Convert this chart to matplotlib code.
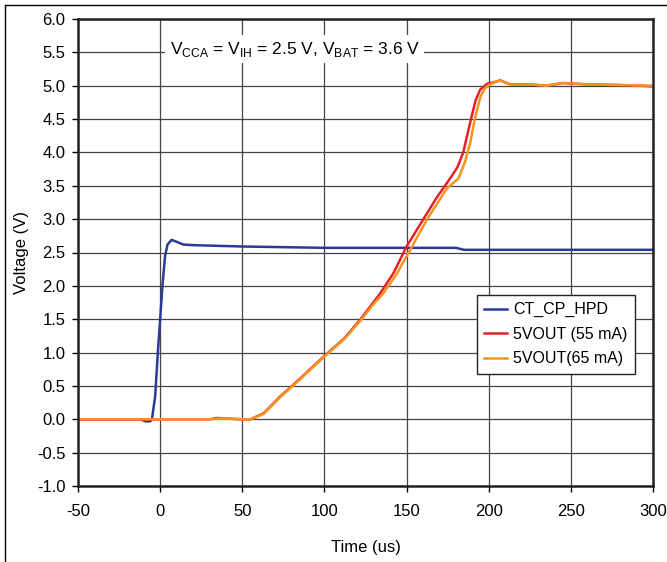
from matplotlib import pyplot as plt
from matplotlib.lines import Line2D
import numpy as np

plt.rcParams['font.family'] = ['Liberation Sans', 'DejaVu Sans']

# CT_CP_HPD trace
t_hpd = [-50, -12, -9, -6, -5, -3, -1.4, 1.4, 3, 4.5, 7, 10, 14, 20, 50, 100, 180, 185, 300]
v_hpd = [0, 0, -0.03, -0.03, 0, 0.35, 1.0, 2.0, 2.45, 2.62, 2.69, 2.66, 2.62, 2.61, 2.59, 2.57, 2.57, 2.54, 2.54]

# 5VOUT, 55 mA load
t_55 = [-50, 30, 35, 40, 50, 55, 63, 73, 83, 93, 100, 112, 122, 130, 134, 142, 150, 160, 168,
        176.5, 181, 184.5, 187.7, 189.7, 192, 194.8, 199, 203, 207, 213, 225, 235, 245, 260, 280, 300]
v_55 = [0, 0, 0.02, 0.01, 0, 0, 0.09, 0.34, 0.56, 0.79, 0.95, 1.21, 1.5, 1.76, 1.89, 2.19, 2.59, 2.99, 3.31,
        3.61, 3.78, 4.0, 4.34, 4.55, 4.78, 4.94, 5.03, 5.05, 5.08, 5.02, 5.02, 5.0, 5.04, 5.02, 5.01, 4.99]

# 5VOUT, 65 mA load
t_65 = [-50, 30, 35, 40, 50, 55, 63, 73, 83, 93, 100, 112, 122, 130, 135.9, 144, 152.2, 162.3, 174.5,
        181.6, 185.6, 188.7, 191.5, 195, 198, 201, 207, 213, 225, 235, 245, 260, 280, 300]
v_65 = [0, 0, 0.01, 0.01, 0, 0, 0.08, 0.33, 0.55, 0.78, 0.94, 1.2, 1.48, 1.73, 1.89, 2.18, 2.54, 2.99, 3.46,
        3.61, 3.86, 4.14, 4.5, 4.84, 4.97, 5.02, 5.08, 5.02, 5.02, 5.0, 5.04, 5.02, 5.01, 5.0]

labels = ['CT_CP_HPD', '5VOUT (55 mA)', '5VOUT(65 mA)']
colors = ['#2B3A94', '#E8202A', '#F7941D']

x_ticks = np.arange(-50, 301, 50)
y_ticks = np.arange(-1.0, 6.01, 0.5)

fig = plt.figure(figsize=(6.67, 5.62), dpi=100)
ax = fig.add_axes([78 / 667, 1 - 486 / 562, 575 / 667, 467 / 562])

ax.plot(t_hpd, v_hpd, color=colors[0], lw=1.8, label=labels[0])
ax.plot(t_55, v_55, color=colors[1], lw=1.8, label=labels[1])
ax.plot(t_65, v_65, color=colors[2], lw=1.8, label=labels[2])

ax.set_xlim(-50, 300)
ax.set_ylim(-1.0, 6.0)
ax.set_xticks(x_ticks)
ax.set_xticklabels([str(x) for x in x_ticks])
ax.set_yticks(y_ticks)
ax.set_yticklabels(['%.1f' % y for y in y_ticks])
ax.grid(True, color='#444444', lw=0.9)
ax.set_axisbelow(True)
ax.tick_params(labelsize=12, length=4, width=1, direction='out')
ax.tick_params(axis='x', pad=9)
ax.tick_params(axis='y', pad=5)
for s in ax.spines.values():
    s.set_linewidth(1.8)
    s.set_color('#222222')

ax.set_xlabel('Time (us)', fontsize=12, labelpad=15)
ax.set_ylabel('Voltage (V)', fontsize=12, labelpad=6)

ax.text(82, 5.55, r'V$_{\mathregular{CCA}}$ = V$_{\mathregular{IH}}$ = 2.5 V, V$_{\mathregular{BAT}}$ = 3.6 V',
        fontsize=12.5, ha='center', va='center',
        bbox=dict(facecolor='white', edgecolor='none', pad=3))

leg = ax.legend(loc='upper left', bbox_to_anchor=(0.694, 0.409), fontsize=11.5,
                frameon=True, fancybox=False, edgecolor='#222222', framealpha=1,
                handlelength=1.4, borderpad=0.45, labelspacing=0.6, handletextpad=0.4,
                borderaxespad=0)
leg.get_frame().set_linewidth(1.0)

# outer frame (left and top only)
fig.add_artist(Line2D([5 / 667, 5 / 667], [0, 1 - 5 / 562], color='black', lw=1))
fig.add_artist(Line2D([5 / 667, 1], [1 - 5 / 562, 1 - 5 / 562], color='black', lw=1))

fig.savefig('out.png', dpi=100)
